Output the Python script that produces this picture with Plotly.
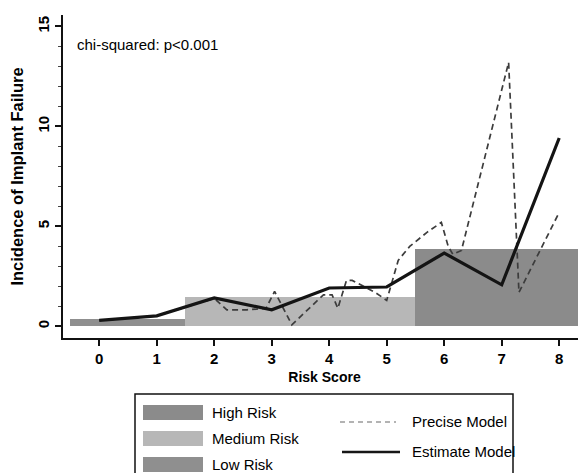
import plotly.graph_objects as go

# ---- data ----
risk_score = [0, 1, 2, 3, 4, 5, 6, 7, 8]
estimate_model = [0.30, 0.53, 1.42, 0.83, 1.92, 1.97, 3.67, 2.08, 9.42]

precise_x = [0, 1, 2, 2.22, 2.57, 2.9, 3.05, 3.35, 3.9, 4.05, 4.15, 4.3, 4.4, 4.8, 5.0,
             5.2, 5.4, 5.7, 5.95, 6.07, 6.15, 6.3, 7.12, 7.3, 8.0]
precise_y = [0.30, 0.53, 1.40, 0.83, 0.83, 0.90, 1.75, 0.08, 1.58, 1.58, 0.90, 2.30, 2.30, 1.70, 1.30,
             3.30, 4.00, 4.70, 5.20, 4.00, 3.60, 3.80, 13.20, 1.70, 5.70]

group_names = ["High Risk", "Medium Risk", "Low Risk"]
group_start = [5.5, 1.5, -0.5]
group_end = [8.5, 5.5, 1.5]
group_incidence = [3.85, 1.47, 0.37]
group_colors = ["#8b8b8b", "#b7b7b7", "#8f8f8f"]

y_ticks = [0, 5, 10, 15]

fig = go.Figure()

for name, s, e, v, c in zip(group_names, group_start, group_end, group_incidence, group_colors):
    fig.add_trace(go.Bar(
        x=[(s + e) / 2], y=[v], width=[e - s], base=0, name=name,
        marker=dict(color=c, line=dict(width=0)), showlegend=False,
    ))

fig.add_trace(go.Scatter(
    x=precise_x, y=precise_y, mode="lines", name="Precise Model",
    line=dict(color="#3c3c3c", width=1.7, dash="6px,4px"), showlegend=False,
))
fig.add_trace(go.Scatter(
    x=risk_score, y=estimate_model, mode="lines", name="Estimate Model",
    line=dict(color="#141414", width=3.2), showlegend=False,
))

# ---- geometry (window pixels; the page body adds an 8px offset) ----
OFF = 8
W, H = 586 - OFF, 473 - OFF
L, R, T, B = 63 - OFF, 586 - OFF, 15 - OFF, 338 - OFF

def px(p):
    return (p - OFF - L) / (R - L)

def py(p):
    return (B - (p - OFF)) / (B - T)

shapes = []
annotations = []

# legend frame
shapes.append(dict(type="rect", xref="paper", yref="paper",
                   x0=px(135), x1=px(513), y0=py(490), y1=py(394),
                   line=dict(color="#111", width=1.5), fillcolor="rgba(0,0,0,0)"))
sw_y = [(405, 420), (431, 446), (457, 472)]
for (y0, y1), name, c in zip(sw_y, group_names, group_colors):
    shapes.append(dict(type="rect", xref="paper", yref="paper",
                       x0=px(143), x1=px(203), y0=py(y1), y1=py(y0),
                       line=dict(width=0), fillcolor=c))
    annotations.append(dict(xref="paper", yref="paper", x=px(210), y=py((y0 + y1) / 2),
                            text=name, showarrow=False, xanchor="left", yanchor="middle",
                            font=dict(size=15, color="#000")))
shapes.append(dict(type="line", xref="paper", yref="paper",
                   x0=px(340), x1=px(396), y0=py(422), y1=py(422),
                   line=dict(color="#9a9a9a", width=1.3, dash="5px,4px")))
shapes.append(dict(type="line", xref="paper", yref="paper",
                   x0=px(342), x1=px(400), y0=py(452), y1=py(452),
                   line=dict(color="#161616", width=2.6)))
annotations.append(dict(xref="paper", yref="paper", x=px(410), y=py(422),
                        text="Precise Model", showarrow=False, xanchor="left", yanchor="middle",
                        font=dict(size=15, color="#000")))
annotations.append(dict(xref="paper", yref="paper", x=px(410), y=py(451),
                        text="Estimate Model", showarrow=False, xanchor="left", yanchor="middle",
                        font=dict(size=15, color="#000")))

annotations.append(dict(xref="paper", yref="paper", x=px(75), y=py(45),
                        text="chi-squared: p<0.001", showarrow=False, xanchor="left",
                        yanchor="middle", font=dict(size=15, color="#000")))

fig.update_layout(
    width=W, height=H,
    margin=dict(l=L, r=W - R, t=T, b=H - B, pad=0),
    paper_bgcolor="white", plot_bgcolor="white",
    barmode="overlay", bargap=0,
    font=dict(family="Liberation Sans, Arial, sans-serif", color="#111"),
    shapes=shapes, annotations=annotations,
    showlegend=False,
    xaxis=dict(
        range=[-0.63, 8.466], tickmode="array", tickvals=risk_score,
        ticktext=[f"<b>{v}</b>" for v in risk_score],
        ticks="outside", ticklen=6, tickwidth=1.5, tickcolor="#111",
        showline=True, linecolor="#111", linewidth=2, showgrid=False, zeroline=False,
        tickfont=dict(size=15, color="#000"),
        title=dict(text="<b>Risk Score</b>", font=dict(size=14, color="#000"), standoff=6),
        automargin=False,
    ),
    yaxis=dict(
        range=[-0.58, 15.57], tickmode="array", tickvals=y_ticks,
        ticktext=[f"<b>{v}</b>" for v in y_ticks], tickangle=-90,
        ticks="outside", ticklen=6, tickwidth=1.5, tickcolor="#111",
        minor=dict(dtick=1, ticks="outside", ticklen=3, tickcolor="#444", tickwidth=1),
        showline=True, linecolor="#111", linewidth=2, showgrid=False, zeroline=False,
        tickfont=dict(size=15, color="#000"),
        title=dict(text="<b>Incidence of Implant Failure</b>", font=dict(size=16.5, color="#000"),
                   standoff=8),
        automargin=False,
    ),
)

fig.write_html("out.html")
